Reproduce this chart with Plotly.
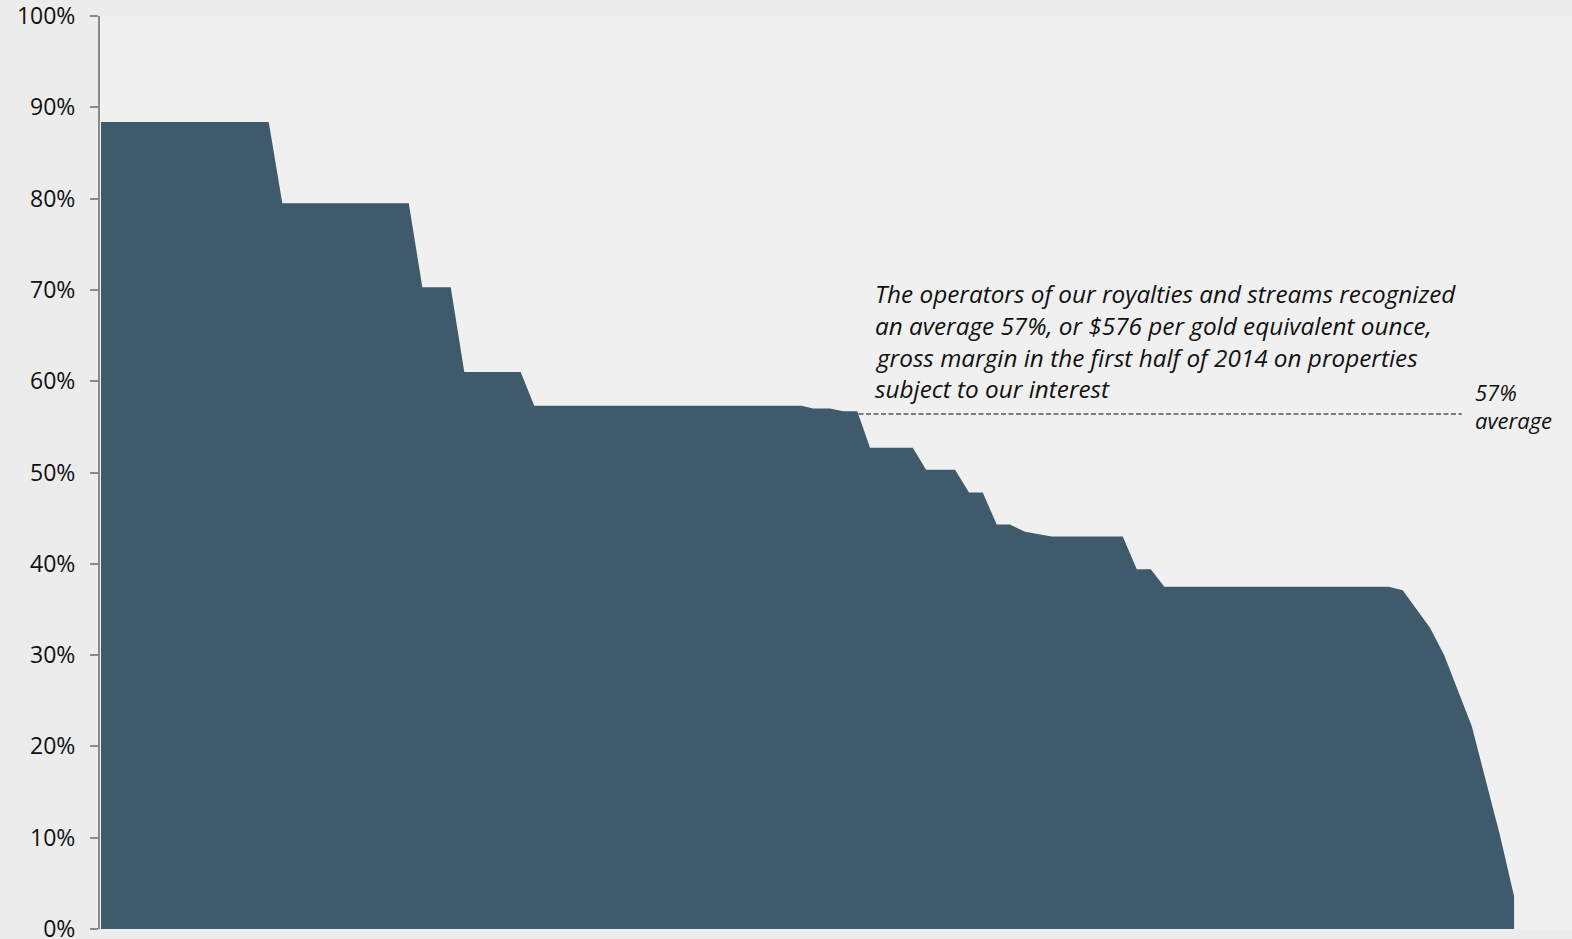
import plotly.graph_objects as go

# Cumulative share of production (%) and operator gross margin (%)
cum_share = [0, 11.87, 12.83, 21.78, 22.74, 24.75, 25.71, 29.70, 30.66, 49.59,
             50.39, 51.59, 52.53, 53.52, 54.42, 57.45, 58.39, 60.44, 61.43, 62.40,
             63.39, 64.33, 65.39, 66.22, 67.28, 72.31, 73.30, 74.29, 75.25, 91.13,
             92.12, 94.05, 95.05, 97.01, 99.01, 100.0]
margin = [88.4, 88.4, 79.5, 79.5, 70.3, 70.3, 61.0, 61.0, 57.3, 57.3,
          57.0, 57.0, 56.7, 56.7, 52.7, 52.7, 50.3, 50.3, 47.8, 47.8,
          44.3, 44.3, 43.5, 43.3, 43.0, 43.0, 39.4, 39.4, 37.5, 37.5,
          37.1, 33.0, 30.0, 22.2, 10.2, 3.6]

avg_x = [0, 96.3]
avg_y = [56.4, 56.4]

y_ticks = [0, 10, 20, 30, 40, 50, 60, 70, 80, 90, 100]
y_tick_text = [f"{v}%" for v in y_ticks]

note_lines = [
    "The operators of our royalties and streams recognized",
    "an average 57%, or $576 per gold equivalent ounce,",
    "gross margin in the first half of 2014 on properties",
    "subject to our interest",
]

AREA = "#3e5a6b"

fig = go.Figure()
fig.add_trace(go.Scatter(x=avg_x, y=avg_y, mode="lines",
                         line=dict(color=AREA, width=1.5, dash="5px,2.5px"),
                         hoverinfo="skip", showlegend=False))
fig.add_trace(go.Scatter(x=cum_share + [100.0], y=margin + [0], mode="lines",
                         fill="tozeroy", fillcolor=AREA,
                         line=dict(color=AREA, width=0), showlegend=False))

font_family = "Open Sans"
line_py = [293, 325, 357, 389]
for txt, py in zip(note_lines, line_py):
    fig.add_annotation(x=54.63, y=(929.5 - py) / 9.138, xref="x", yref="y",
                       text=f"<i>{txt}</i>", showarrow=False, xanchor="left",
                       yanchor="middle",
                       font=dict(family=font_family, size=24.3, color="#111111"))
for txt, py in zip(["57%", "average"], [392, 420]):
    fig.add_annotation(x=97.1, y=(929.5 - py) / 9.138, xref="x", yref="y",
                       text=f"<i>{txt}</i>", showarrow=False, xanchor="left",
                       yanchor="middle",
                       font=dict(family=font_family, size=22, color="#111111"))

fig.update_layout(
    width=1572, height=939,
    margin=dict(l=100, r=0, t=16, b=9.5, autoexpand=False),
    paper_bgcolor="#ececec",
    plot_bgcolor="#f0f0f0",
    showlegend=False,
    xaxis=dict(range=[-0.07, 104.1], visible=False, showgrid=False,
               zeroline=False, automargin=False),
    yaxis=dict(range=[0, 100], tickvals=y_ticks, ticktext=y_tick_text,
               showgrid=False, zeroline=False, showline=True, automargin=False,
               linecolor="#8a8a8a", linewidth=2, ticks="outside", ticklen=8,
               tickcolor="#8a8a8a", tickwidth=2, ticklabelstandoff=10,
               ticklabeloverflow="allow",
               tickfont=dict(family=font_family, size=23, color="#111111")),
)

# remove the page's default body margin so the figure fills the window exactly
fig.write_html("out.html", config={"displayModeBar": False},
               post_script="document.body.style.margin='0px';document.body.style.overflow='hidden';")
